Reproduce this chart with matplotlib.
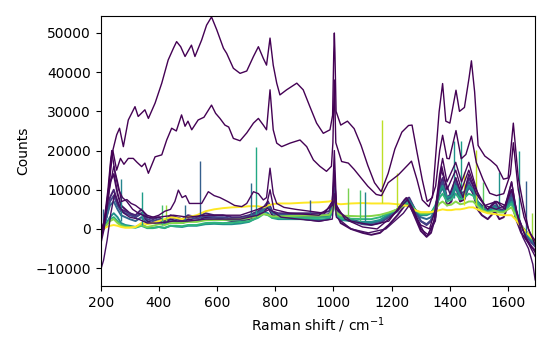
import numpy as np
import matplotlib
matplotlib.use("Agg")
import matplotlib.pyplot as plt

# Raman shift grid shared by the bulk of the spectra (cm^-1)
shift = [200, 210, 220, 232, 245, 258, 270, 285, 300, 320,
         340, 360, 380, 400, 420, 440, 460, 480, 500, 530,
         560, 590, 620, 650, 680, 710, 740, 760, 775, 790,
         810, 850, 900, 950, 985, 996, 1003, 1010, 1025, 1060,
         1100, 1130, 1160, 1190, 1220, 1245, 1260, 1280, 1300, 1320,
         1335, 1350, 1365, 1375, 1390, 1405, 1420, 1435, 1450, 1465,
         1480, 1495, 1510, 1530, 1555, 1570, 1585, 1600, 1612, 1625,
         1645, 1665, 1680, 1693]

# bulk spectra, counts in thousands
purple_low = [-2, 0, 5, 12, 14, 9, 6, 5, 4, 3,
              4, 2, 1.5, 2, 1.5, 2.5, 2, 1.5, 2.5, 2,
              3, 3, 2.5, 2, 2, 2.5, 3.5, 4.5, 5.5, 3.5,
              3, 3, 2.5, 2, 2.5, 5, 10, 4, 1.5, 0,
              -1, -1.5, -1, 1, 3.5, 6, 6.5, 3, -0.5, -2,
              -1, 3, 10, 12, 6, 7, 11, 7, 7.5, 11,
              9, 5, 3.5, 2.5, 4.5, 2.5, 3, 6, 8, 3,
              -1, -3, -4.5, -5.5]
purple = [-1, 0, 3, 8, 10, 7, 5, 4.5, 4, 3.5,
          5, 3, 2.5, 3, 2, 3.5, 3, 2.5, 3.5, 3,
          4, 3.5, 3.5, 3, 3, 3.5, 4.5, 5.5, 7, 4.5,
          4, 4, 4, 4, 4.5, 7, 12, 6, 3.5, 2.5,
          1.5, 1.5, 2, 3.5, 5, 7.5, 8, 5, 2, 1,
          2, 5, 11, 13, 8, 9, 13, 9, 9.5, 13,
          11, 7, 6, 5, 7, 5, 5, 8, 10, 5,
          1, -1.5, -3, -4]
indigo = [-1, 0.5, 3, 7, 8.5, 6, 4.5, 4, 3.5, 3,
          4, 2.5, 2, 2.5, 1.8, 3, 2.5, 2, 3, 2.6,
          3.3, 3, 3, 2.6, 2.6, 3.2, 4.2, 5.2, 6.5, 4.2,
          3.7, 3.6, 3.5, 3.4, 3.8, 6, 10.5, 5, 3, 2,
          1.2, 1, 1.5, 3, 4.5, 7, 7.5, 4.5, 2, 1.2,
          2.2, 5, 10, 12, 7.5, 8.5, 12, 8.5, 9, 12,
          10, 6.5, 5, 4.5, 6, 4.5, 4.5, 7, 9, 4.5,
          0.5, -2, -3.5, -4.5]
blue = [0, 1, 3, 6, 7, 5, 3.5, 3, 2.5, 2,
        3, 1.5, 1.5, 1.8, 1.2, 2, 1.8, 1.5, 2, 2,
        2.5, 2.5, 2.5, 2.2, 2.3, 2.8, 4, 5, 6, 4,
        3.5, 3.3, 3.2, 3, 3.3, 5.5, 9, 4.5, 2.8, 2,
        1.5, 1.5, 2, 3.5, 5, 7, 7.5, 5, 3, 2.5,
        3, 5, 9, 10.5, 7.5, 8, 10.5, 8, 8.5, 10.5,
        9.5, 6.5, 5, 4.5, 6, 4.5, 4.5, 6.5, 8, 4,
        0.5, -1.5, -3, -4]
teal = [0, 0.5, 1.5, 3, 4, 3, 1.5, 1, 0.8, 0.5,
        1.2, 0.3, 0.3, 0.5, 0.2, 0.8, 0.6, 0.5, 0.8, 0.8,
        1.2, 1.3, 1.2, 1.2, 1.4, 1.8, 3, 4.5, 4, 2.8,
        2.5, 2.5, 2.5, 2.3, 2.6, 4.5, 8, 3.5, 2.3, 2,
        1.8, 1.8, 2.3, 3.8, 5, 6.8, 7, 5, 3.5, 3.5,
        4, 6, 9.5, 11, 8, 8.5, 11, 8.5, 9, 11,
        10, 7, 5.5, 4.5, 5.5, 4.5, 4.5, 6, 7, 3.5,
        0.5, -1.5, -2.5, -3.5]
green = [0.5, 0.5, 1, 2.5, 3, 2, 1, 0.8, 0.5, 0.3,
         0.8, 0.2, 0.2, 0.5, 0.3, 0.8, 0.8, 0.7, 1, 1,
         1.5, 1.6, 1.5, 1.6, 1.8, 2, 2.8, 3.8, 3.5, 2.8,
         2.8, 2.8, 2.8, 2.8, 3, 4.5, 7, 3.8, 2.8, 2.6,
         2.5, 2.5, 3, 4, 5, 6.5, 6.5, 5, 3.8, 3.8,
         4.2, 5.5, 8, 9, 7, 7.5, 9, 7.5, 8, 9,
         8.5, 6.5, 5, 4.2, 5, 4.3, 4.3, 5.5, 6.5, 3.5,
         0.5, -1, -2.5, -3.3]
lime = [0, 0.5, 1, 2, 2.5, 1.5, 0.8, 0.5, 0.5, 0.5,
        1, 0.5, 0.8, 1.2, 1, 1.5, 1.5, 1.5, 1.8, 1.8,
        2.2, 2.3, 2.3, 2.4, 2.5, 2.8, 3.2, 3.8, 3.6, 3.2,
        3.2, 3.3, 3.4, 3.4, 3.6, 4.8, 6.5, 4.2, 3.4, 3.3,
        3.2, 3.3, 3.6, 4.2, 5, 6, 6, 4.8, 4, 4,
        4.2, 5, 6.5, 7, 6, 6.2, 7, 6.3, 6.5, 7,
        7, 5.8, 4.8, 4.2, 4.6, 4.2, 4.2, 5, 5.5, 3.5,
        0.8, -0.8, -2.2, -3]
yellow = [-0.5, 0, 0.5, 0.8, 1, 0.8, 0.5, 0.3, 0.3, 0.5,
          1.5, 1.2, 1.5, 2, 2.5, 3, 2.8, 2.5, 3, 3.5,
          4.5, 5, 5.3, 5.5, 5.6, 5.8, 5.8, 5.5, 6, 6.3,
          6.5, 6.5, 6.7, 6.8, 7, 7.2, 7.5, 6.5, 6.3, 6.5,
          6.6, 6.5, 6.5, 6.5, 6.3, 6, 5.8, 4.8, 4.3, 4.3,
          4.3, 4.5, 4.8, 5, 4.8, 4.8, 5, 5, 5.2, 5.5,
          5.5, 5, 4.5, 4, 3.8, 3.6, 3.5, 3.5, 3.5, 2.5,
          0.5, -1, -2.2, -3]

# strongly fluorescent spectra, each on its own grid
shift_a = [200, 212, 225, 235, 245, 255, 265, 278, 295, 318,
           329, 352, 364, 387, 410, 432, 450, 461, 475, 490,
           512, 524, 547, 564, 581, 599, 622, 633, 656, 679,
           702, 725, 742, 759, 770, 782, 793, 805, 816, 839,
           874, 896, 919, 942, 965, 988, 997, 1001, 1003, 1005,
           1009, 1025, 1048, 1071, 1095, 1118, 1141, 1164, 1188, 1211,
           1235, 1258, 1270, 1287, 1305, 1322, 1340, 1363, 1375, 1386,
           1400, 1421, 1433, 1450, 1466, 1474, 1485, 1497, 1520, 1540,
           1561, 1584, 1600, 1618, 1635, 1654, 1670, 1693]
counts_a = [-1, 2, 10, 18, 21, 24, 25.7, 21, 27.8, 31.2,
            28.7, 30.4, 28.2, 32.1, 37.2, 43.1, 46.1, 47.8, 46.5, 44,
            46.9, 44, 48.2, 52, 54.1, 50.8, 46.1, 44.8, 41, 39.7,
            40.3, 44, 46.5, 43.5, 41.8, 48.7, 41.8, 37.2, 34.2, 35.5,
            37.2, 35.5, 31.2, 27, 24.4, 25.3, 29, 45, 50, 45,
            30, 26.5, 27.5, 25.6, 21.3, 16.2, 11.8, 9.5, 14.2, 20.4,
            24.7, 26.4, 26.5, 19.6, 12.6, 7, 8, 29.9, 37.1, 27.5,
            27, 35.4, 30, 31, 38.6, 42.9, 35, 21.3, 18.6, 17.5,
            16.1, 12.7, 13, 27, 13, 5.5, 0, -4]

shift_b = [200, 215, 230, 242, 255, 268, 280, 295, 312, 325,
           341, 352, 364, 387, 410, 427, 444, 460, 478, 490,
           500, 513, 535, 555, 581, 595, 610, 627, 640, 656,
           679, 702, 725, 742, 759, 770, 782, 793, 805, 822,
           851, 885, 908, 931, 953, 976, 993, 998, 1003, 1008,
           1028, 1051, 1071, 1095, 1118, 1147, 1165, 1188, 1223, 1258,
           1268, 1287, 1305, 1328, 1351, 1365, 1375, 1390, 1398, 1421,
           1439, 1455, 1474, 1491, 1514, 1537, 1560, 1585, 1608, 1618,
           1635, 1655, 1675, 1693]
counts_b = [-2, 3, 12, 20, 15, 18, 16.5, 18, 18, 17,
            15.9, 16.8, 14.2, 18.4, 18.9, 22.7, 25.7, 25, 29.1, 26.2,
            27.5, 25.3, 27.8, 28.5, 31.6, 29.5, 28.2, 26.5, 26, 23.1,
            22.5, 24.5, 27, 28.2, 26.5, 25.3, 35.5, 25.3, 21.9, 21,
            21.9, 22.7, 21, 17.6, 16, 14.7, 16, 22, 38, 22,
            17.2, 16.8, 15.2, 13, 10.9, 8.8, 8.5, 11.8, 13.8, 16.5,
            17.3, 12.6, 7.4, 5.7, 10.9, 20, 23.9, 18, 17.9, 25.1,
            17.9, 19, 23.7, 16.9, 12.6, 9.1, 8.5, 9, 14, 22,
            10, 3, -1, -3]

shift_c = [200, 215, 230, 245, 258, 272, 290, 305, 320, 341,
           360, 380, 400, 420, 440, 455, 467, 480, 492, 505,
           520, 547, 570, 590, 610, 639, 660, 685, 702, 725,
           742, 759, 770, 782, 793, 805, 830, 870, 920, 970,
           996, 1003, 1010, 1040, 1100, 1150, 1190, 1230, 1255, 1275,
           1300, 1325, 1345, 1365, 1375, 1390, 1420, 1440, 1465, 1480,
           1500, 1530, 1560, 1590, 1612, 1630, 1660, 1693]
counts_c = [-3, 2, 10, 16, 12, 7, 7.5, 6.5, 6, 4.8,
            3.5, 3, 3.5, 4.5, 5, 7, 9.9, 8, 8.5, 6.5,
            6.5, 6.5, 9.5, 8.5, 8, 6.9, 6, 5.7, 6.5, 9.5,
            9, 7.4, 8, 15.5, 9, 6.5, 5.5, 5, 4.5, 4,
            7, 20, 6, 2.5, 0.5, 0, 2.5, 5.5, 7.5, 5,
            0, -1.5, 2, 14, 18, 12, 17, 12, 17, 13,
            8, 5, 7, 5, 12, 4, -2, -6]

shift_d = [200, 210, 222, 235, 248, 262, 280, 300, 330, 360,
           400, 450, 500, 560, 620, 680, 740, 780, 820, 880,
           950, 996, 1003, 1010, 1060, 1120, 1180, 1240, 1260, 1290,
           1320, 1350, 1370, 1400, 1420, 1445, 1465, 1490, 1520, 1560,
           1590, 1612, 1630, 1650, 1670, 1685, 1693]
counts_d = [-10.5, -8, -3, 4, 9, 6, 4, 3, 2.5, 1.5,
            1.5, 2, 2, 2.5, 2.5, 2.5, 3.5, 5, 3, 2.5,
            2, 2.5, 9, 3, 0, -1, 0, 4, 6, 2,
            -2, 2, 15, 9, 13, 8, 14, 9, 6, 5,
            6, 12, 4, -2, -5, -9, -13]

shift_e = [200, 212, 225, 238, 250, 262, 275, 290, 310, 330,
           360, 400, 450, 500, 560, 620, 680, 740, 770, 782,
           795, 850, 950, 996, 1003, 1010, 1060, 1130, 1190, 1250,
           1300, 1330, 1350, 1372, 1390, 1420, 1440, 1465, 1490, 1520,
           1560, 1590, 1612, 1635, 1665, 1693]
counts_e = [-4, 0, 8, 20, 14, 10, 8, 7, 5, 4,
            3, 3, 3.5, 3, 3.5, 3.5, 3.5, 5, 6, 10,
            5, 4, 3.5, 6, 15, 5, 2, 1, 2, 8,
            1, 0, 5, 16, 10, 15, 10, 15, 10, 6,
            7, 6, 10, 3, -3, -7]

# cosmic ray spikes: position, foot and top (thousands), colour position
spike_shift = [209, 270, 341, 410, 425, 490, 541, 716, 733, 919,
               1051, 1091, 1109, 1168, 1220, 1414, 1437, 1449, 1491, 1515,
               1568, 1637, 1663, 1683]
spike_foot = [0, 2, 1, 1, 2, 2, 2.5, 3, 3, 4,
              3, 2, 2, 6.5, 5, 8, 8, 6, 6, 5,
              5, 2, -1, -2]
spike_top = [5, 12.7, 9.5, 6.2, 6, 6.2, 17.3, 11.7, 21, 7.5,
             10.4, 10, 9.5, 27.8, 14.2, 22.4, 22.4, 14.5, 20.2, 11.9,
             14.5, 19.8, 12.3, 4]
spike_tint = [0.3, 0.45, 0.55, 0.7, 0.85, 0.35, 0.3, 0.35, 0.6, 0.3,
              0.8, 0.7, 0.45, 0.9, 0.9, 0.5, 0.55, 0.95, 0.9, 0.75,
              0.5, 0.55, 0.3, 0.85]

bulk = [(purple_low, 0.03), (purple, 0.1), (indigo, 0.2), (blue, 0.33),
        (teal, 0.5), (green, 0.65), (lime, 0.82), (yellow, 1.0)]
strong = [(shift_d, counts_d, 0.04), (shift_e, counts_e, 0.02),
          (shift_c, counts_c, 0.02), (shift_b, counts_b, 0.0),
          (shift_a, counts_a, 0.0)]

cmap = plt.get_cmap("viridis")
fig, ax = plt.subplots(figsize=(5.5, 3.5), dpi=100)
fig.subplots_adjust(left=0.183, right=0.973, bottom=0.183, top=0.955)

for counts, t in bulk:
    ax.plot(shift, np.array(counts) * 1000, color=cmap(t), lw=1.4)

ax.vlines(spike_shift, np.array(spike_foot) * 1000, np.array(spike_top) * 1000,
          colors=[cmap(t) for t in spike_tint], lw=1)

for xs, counts, t in strong:
    ax.plot(xs, np.array(counts) * 1000, color=cmap(t), lw=1.0)

ax.set_xlim(200, 1693)
ax.set_ylim(-14550, 54400)
ax.set_xlabel("Raman shift / cm$^{-1}$")
ax.set_ylabel("Counts")

fig.savefig("out.png")
